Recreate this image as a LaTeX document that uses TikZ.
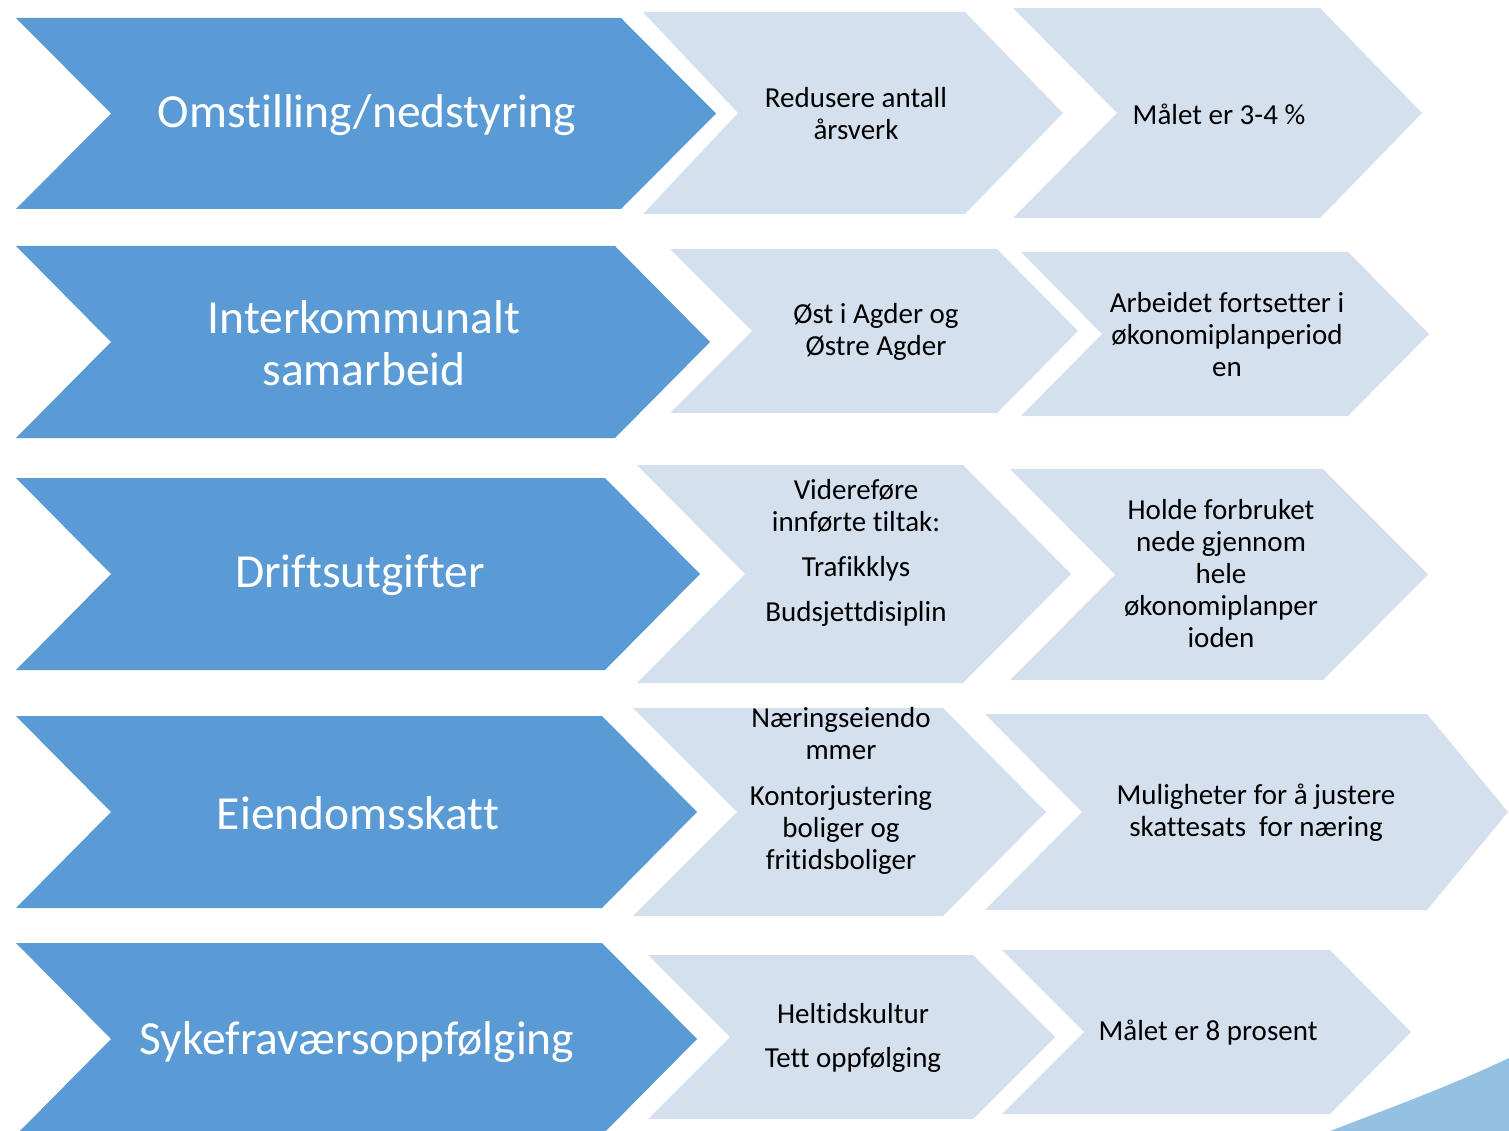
\documentclass[tikz,border=0pt]{standalone}
\usepackage{fontspec}
\setmainfont[Ligatures=NoCommon]{Carlito}
\definecolor{bigblue}{HTML}{5B9BD5}
\definecolor{lightblue}{HTML}{D5E0EF}
\definecolor{swooshblue}{HTML}{94C1E1}
\newcommand{\chevronshape}[7]{% style, left, top, bottom, notch x, right-top x, tip x
  \fill[#1] (#2,#3) -- (#6,#3) -- (#7,{(#3+#4)/2}) -- (#6,#4) -- (#2,#4) -- (#5,{(#3+#4)/2}) -- cycle;}
\begin{document}
\begin{tikzpicture}[x=1pt,y=-1pt,
  bigfill/.style={fill=bigblue},
  lightfill/.style={fill=lightblue},
  bigtxt/.style={text=white,align=center,inner sep=0pt,font=\fontsize{47.5}{52}\selectfont},
  smalltxt/.style={text=black,align=center,inner sep=0pt,font=\fontsize{29}{32}\selectfont}]
\useasboundingbox[fill=white] (0,0) rectangle (1509,1131);
% decorative swoosh
\fill[swooshblue] (1330,1131) .. controls (1390,1108) and (1450,1086) .. (1509,1058) -- (1509,1131) -- cycle;
% Row 1
\chevronshape{bigfill}{16}{18}{209}{111}{621}{716}
\chevronshape{lightfill}{643}{12}{214}{738}{965}{1063}
\chevronshape{lightfill}{1013}{8}{218}{1117}{1320}{1422}
\node[bigtxt] (a1) at (367,115) {Omstilling/nedstyring};
\node[smalltxt] (a2) at (856,114) {Redusere antall\\årsverk};
\node[smalltxt] (a3) at (1219,114) {Målet er 3-4 \%};
% Row 2
\chevronshape{bigfill}{16}{246}{438}{111}{615}{710}
\chevronshape{lightfill}{670}{249}{413}{752}{997}{1078}
\chevronshape{lightfill}{1021}{252}{416}{1102}{1348}{1429}
\node[bigtxt] (b1) at (364,343) {Interkommunalt\\samarbeid};
\node[smalltxt] (b2) at (876,332) {Øst i Agder og\\Østre Agder};
\node[smalltxt] (b3) at (1227,335) {Arbeidet fortsetter i\\økonomiplanperiod\\en};
% Row 3
\chevronshape{bigfill}{16}{478}{670}{111}{605}{700}
\chevronshape{lightfill}{637}{465}{683}{745}{963}{1071}
\chevronshape{lightfill}{1010}{469}{680}{1115}{1323}{1428}
\node[bigtxt] (c1) at (360,575) {Driftsutgifter};
\node[smalltxt] (c2) at (856,553) {Videreføre\\innførte tiltak:\\[13pt]Trafikklys\\[13pt]Budsjettdisiplin};
\node[smalltxt] (c3) at (1221,574) {Holde forbruket\\nede gjennom\\hele\\økonomiplanper\\ioden};
% Row 4
\chevronshape{bigfill}{16}{716}{908}{111}{602}{697}
\chevronshape{lightfill}{633}{708}{916}{737}{943}{1046}
\chevronshape{lightfill}{985}{714}{910}{1082}{1427}{1508}
\node[bigtxt] (d1) at (358,813) {Eiendomsskatt};
\node[smalltxt] (d2) at (841,791) {Næringseiendo\\mmer\\[14pt]Kontorjustering\\boliger og\\fritidsboliger};
\node[smalltxt] (d3) at (1256,813) {Muligheter for å justere\\skattesats\ \ for næring};
% Row 5
\chevronshape{bigfill}{16}{943}{1135}{111}{602}{697}
\chevronshape{lightfill}{648}{955}{1119}{730}{973}{1055}
\chevronshape{lightfill}{1002}{950}{1114}{1084}{1330}{1411}
\node[bigtxt] (e1) at (357,1042) {Sykefraværsoppfølging};
\node[smalltxt] (e2) at (853,1038) {Heltidskultur\\[12pt]Tett oppfølging};
\node[smalltxt] (e3) at (1208,1033) {Målet er 8 prosent};
\end{tikzpicture}
\end{document}
